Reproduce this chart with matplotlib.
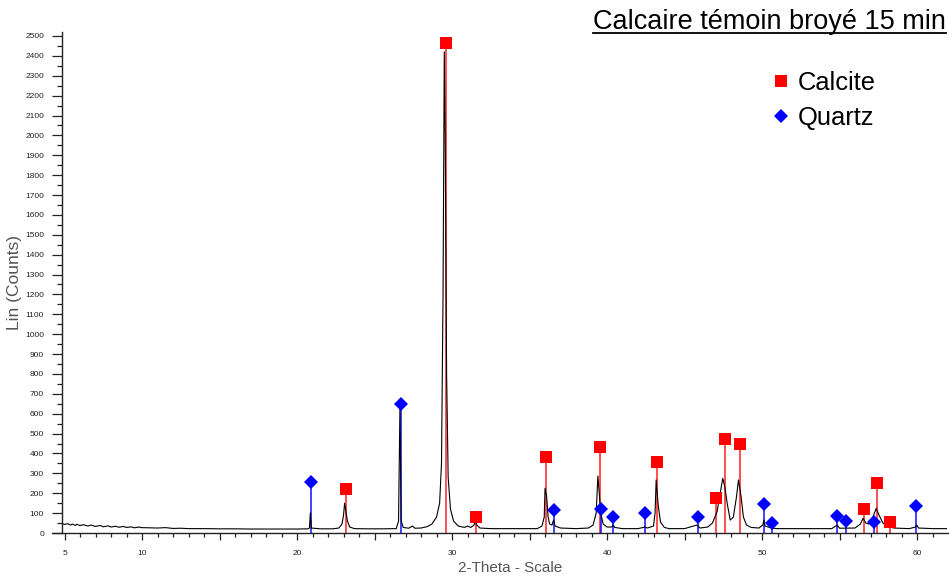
import matplotlib
matplotlib.use("Agg")
import matplotlib.pyplot as plt
import numpy as np
from matplotlib.lines import Line2D
from matplotlib.ticker import FixedLocator, MultipleLocator, FuncFormatter

plt.rcParams['font.family'] = ['Liberation Sans', 'DejaVu Sans']

# XRD trace (2-theta, counts)
theta = [4.84, 5.0, 5.2, 5.4, 5.5, 5.7, 5.8, 6.0, 6.2, 6.5, 6.7, 7.0, 7.3, 7.5, 7.8, 8.0, 8.3,
         8.5, 8.8, 9.0, 9.3, 9.5, 9.8, 10.0, 10.5, 11.0, 11.5, 12.0, 12.5, 13.0,
         14.0, 15.0, 16.0, 17.0, 18.0, 19.0, 20.0, 20.7, 20.80, 20.86, 20.92, 21.5, 22.3, 22.7,
         22.9, 23.0, 23.07, 23.15, 23.25, 23.4, 23.7, 24.5, 25.5, 26.4, 26.55, 26.64, 26.72,
         26.85, 27.2, 27.45, 27.6, 28.0, 28.4, 28.7, 29.0, 29.2, 29.32, 29.42, 29.5, 29.56,
         29.6, 29.65, 29.75, 29.9, 30.1, 30.4, 30.8, 31.0, 31.2, 31.4, 31.5, 31.6, 31.8, 32.5,
         33.5, 34.5, 35.5, 35.8, 35.95, 36.0, 36.1, 36.2, 36.3, 36.45, 36.55, 36.65, 37.0,
         38.0, 38.8, 39.1, 39.3, 39.41, 39.5, 39.6, 39.75, 40.0, 40.3, 40.4, 40.5, 41.0, 42.0,
         42.45, 42.6, 43.0, 43.1, 43.17, 43.3, 43.45, 43.7, 44.0, 45.0, 45.8, 46.0, 46.5, 46.8,
         47.1, 47.3, 47.47, 47.6, 47.75, 47.95, 48.15, 48.35, 48.48, 48.65, 48.8, 49.0, 49.3,
         49.8, 50.05, 50.12, 50.2, 50.6, 51.0, 52.0, 53.0, 54.5, 54.85, 55.0, 56.0, 56.35,
         56.52, 56.7, 56.9, 57.15, 57.37, 57.55, 57.8, 58.1, 58.5, 59.5, 59.9, 59.98, 60.1,
         61.0, 61.9]
counts = [48, 43, 47, 40, 45, 38, 44, 37, 42, 35, 40, 33, 38, 31, 36, 30, 34,
          29, 33, 28, 31, 26, 30, 27, 26, 25, 27, 23, 24, 22,
          22, 21, 21, 20, 20, 20, 20, 21, 25, 102, 25, 21, 21, 25,
          45, 90, 150, 110, 60, 30, 22, 21, 21, 22, 60, 640, 60,
          28, 24, 35, 24, 25, 32, 45, 80, 150, 350, 1200, 2420, 2000,
          1450, 800, 280, 120, 60, 35, 28, 35, 28, 38, 57, 40, 25, 22,
          22, 22, 22, 35, 80, 225, 186, 80, 45, 40, 65, 35, 25,
          22, 25, 40, 100, 287, 200, 100, 45, 30, 30, 40, 28, 22, 22,
          30, 25, 35, 100, 267, 141, 55, 28, 22, 22, 40, 25, 30, 50,
          107, 200, 275, 233, 150, 65, 80, 180, 267, 183, 80, 40, 28,
          25, 40, 65, 35, 25, 22, 22, 22, 22, 40, 24, 25, 45,
          74, 50, 45, 80, 124, 90, 50, 35, 25, 22, 30, 40, 25,
          22, 22]

# phase identification sticks
calcite_theta = [23.17, 29.58, 31.52, 36.08, 39.54, 43.21, 47.06, 47.63, 48.57, 56.59, 57.43, 58.27]
calcite_int = [220, 2465, 82, 384, 431, 356, 178, 473, 449, 121, 253, 57]
quartz_theta = [20.92, 26.68, 36.61, 39.63, 40.37, 42.46, 45.84, 50.12, 50.66, 54.85, 55.43, 57.24, 59.95]
quartz_int = [258, 649, 116, 119, 82, 100, 82, 148, 52, 85, 60, 54, 134]

x_labels = {5: '5', 10: '10', 20: '20', 30: '30', 40: '40', 50: '50', 60: '60'}

fig = plt.figure(figsize=(9.49, 5.79), dpi=100)
ax = fig.add_axes([52 / 949, 1 - 533 / 579, 896 / 949, 501 / 579])

ax.vlines(calcite_theta, 0, calcite_int, color='#ff2020', linewidth=1.1, zorder=1)
ax.vlines(quartz_theta, 0, quartz_int, color='#1010ff', linewidth=1.1, zorder=1)
ax.plot(theta, counts, color='black', linewidth=0.8, zorder=2)
ax.plot(calcite_theta, calcite_int, 's', color='#ff0000', markersize=8, markeredgewidth=0, zorder=3)
ax.plot(quartz_theta, quartz_int, 'D', color='#0000ff', markersize=7, markeredgewidth=0, zorder=3)

ax.set_xlim(4.19, 62.0)
ax.set_ylim(0, 2520)

ax.spines['top'].set_visible(False)
ax.spines['right'].set_visible(False)
ax.spines['left'].set_position(('data', 4.84))
for s in ['left', 'bottom']:
    ax.spines[s].set_color('#222222')
    ax.spines[s].set_linewidth(1.0)

ax.yaxis.set_major_locator(MultipleLocator(100))
ax.yaxis.set_minor_locator(MultipleLocator(50))
ax.xaxis.set_major_locator(FixedLocator(list(range(5, 61, 5))))
ax.xaxis.set_minor_locator(FixedLocator(list(range(5, 62))))
ax.xaxis.set_major_formatter(FuncFormatter(lambda v, p: x_labels.get(int(round(v)), '')))
ax.tick_params(axis='y', which='major', length=7, width=0.9, labelsize=6, pad=6, colors='#222222')
ax.tick_params(axis='y', which='minor', length=3.5, width=0.9, colors='#222222')
ax.tick_params(axis='x', which='major', length=5, width=0.9, labelsize=6, pad=7, colors='#222222')
ax.tick_params(axis='x', which='minor', length=3, width=0.9, colors='#222222')

fig.text(15 / 949, 1 - 282 / 579, 'Lin (Counts)', rotation=90, ha='center', va='center',
         fontsize=12.5, color='#555555')
fig.text(510 / 949, 1 - 568 / 579, '2-Theta - Scale', ha='center', va='center',
         fontsize=11, color='#555555')

title = fig.text(946 / 949, 1 - 29 / 579, 'Calcaire témoin broyé 15 min', ha='right',
                 va='baseline', fontsize=19.5, color='black')

handles = [Line2D([], [], linestyle='none', marker='s', color='#ff0000', markersize=8, markeredgewidth=0),
           Line2D([], [], linestyle='none', marker='D', color='#0000ff', markersize=7, markeredgewidth=0)]
ax.legend(handles, ['Calcite', 'Quartz'], loc='upper left', bbox_to_anchor=(770.8 / 949, 1 - 70.5 / 579),
          bbox_transform=fig.transFigure, frameon=False, fontsize=18.4, handlelength=0.8,
          handletextpad=0.27, labelspacing=0.45, borderpad=0, borderaxespad=0)

# underline the title
fig.canvas.draw()
bb = title.get_window_extent()
y_ul = (579 - 32.5) / 579
fig.add_artist(Line2D([bb.x0 / 949, bb.x1 / 949], [y_ul, y_ul], color='black', linewidth=1.3,
                      transform=fig.transFigure))

fig.savefig('out.png', dpi=100)
